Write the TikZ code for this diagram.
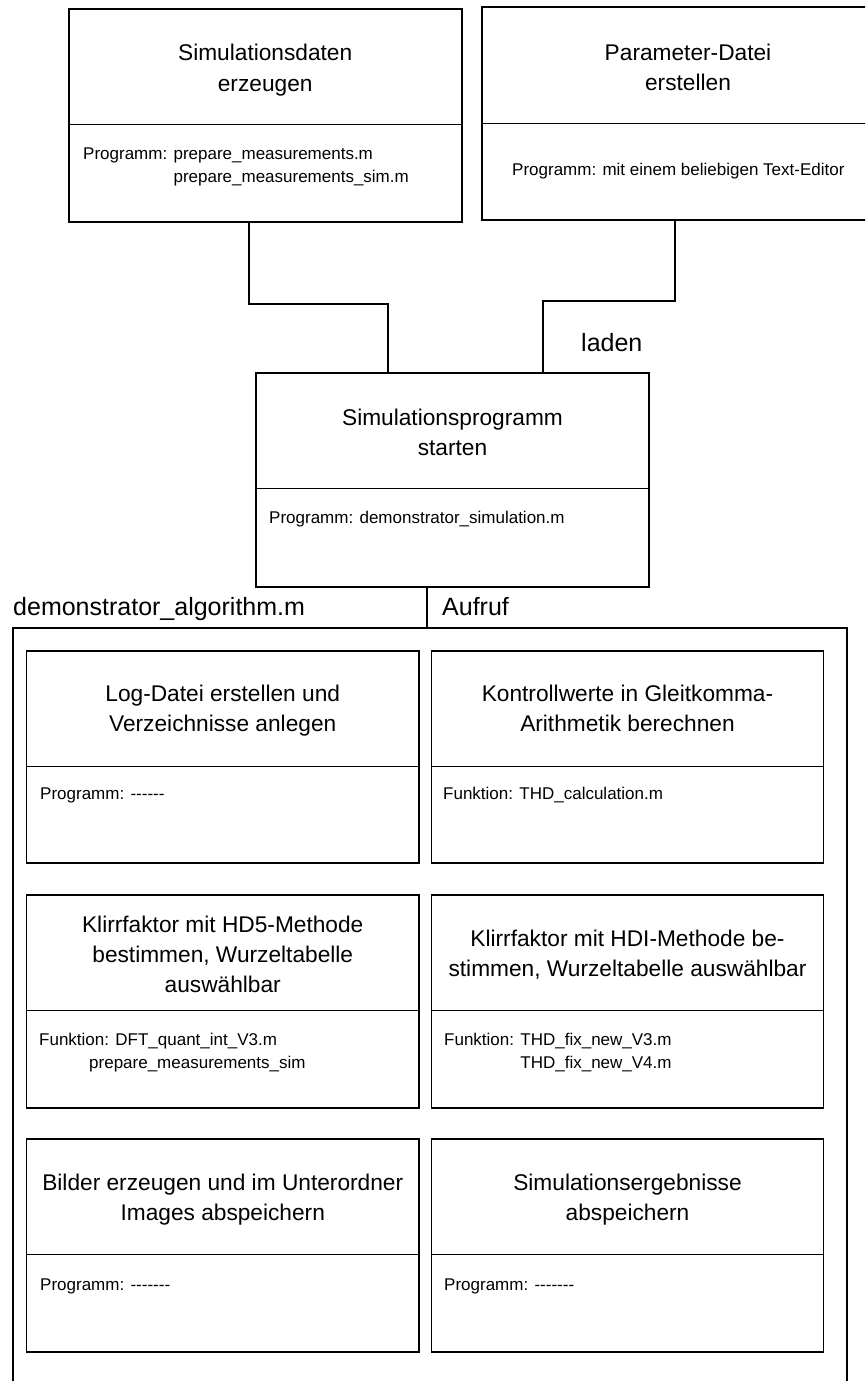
\documentclass[tikz,border=0pt]{standalone}
\usepackage{fontspec}
\setmainfont{Liberation Sans}
% multi-line text whose baseline is that of its first line
\newcommand\boxtitle[1]{\begin{tabular}[t]{@{}c@{}}#1\end{tabular}}
\newcommand\boxbody[1]{\begin{tabular}[t]{@{}l@{}}#1\end{tabular}}
\begin{document}
\begin{tikzpicture}[x=1pt,y=-1pt,
  stage/.style={draw=black, line width=1.6pt, inner sep=0pt, outer sep=0pt},
  divider/.style={draw=black, line width=1pt},
  conn/.style={draw=black, line width=1.1pt},
  title/.style={anchor=base, inner sep=0pt, font=\fontsize{22.7}{30}\selectfont},
  body/.style={anchor=base west, inner sep=0pt, font=\fontsize{17}{22.5}\selectfont},
  tag/.style={anchor=base west, inner sep=0pt, font=\fontsize{25}{30}\selectfont}]
\useasboundingbox (0,0) rectangle (865,1381);
\clip (0,0) rectangle (865,1381);

% ---------- top row ----------
\node[stage, minimum width=393, minimum height=213] (b1) at (265.2,115.5) {};
\draw[divider] (b1.west |- 0,124) -- (b1.east |- 0,124);
\node[title] (b1t) at (265.2,61) {\boxtitle{Simulationsdaten\\erzeugen}};
\node[body] (b1p) at (83,159.5) {\boxbody{Programm: prepare\_measurements.m\\\hphantom{Programm: }prepare\_measurements\_sim.m}};

\node[stage, minimum width=412, minimum height=213] (b2) at (688,113.5) {};
\draw[divider] (b2.west |- 0,123) -- (b2.east |- 0,123);
\node[title] (b2t) at (688,60.7) {\boxtitle{Parameter-Datei\\erstellen}};
\node[body] (b2p) at (512,175) {Programm: mit einem beliebigen Text-Editor};

% ---------- simulation program ----------
\node[stage, minimum width=393, minimum height=214] (b3) at (452.5,480) {};
\draw[divider] (b3.west |- 0,488) -- (b3.east |- 0,488);
\node[title] (b3t) at (452.5,425) {\boxtitle{Simulationsprogramm\\starten}};
\node[body] (b3p) at (269,523) {Programm: demonstrator\_simulation.m};

% connectors into the simulation program
\coordinate (c1) at (249,304);
\coordinate (c2) at (388,304);
\draw[conn] (b1.south -| c1) -- (c1) -- (c2) -- (c2 |- b3.north);
\coordinate (c3) at (675,301);
\coordinate (c4) at (543,301);
\draw[conn] (b2.south -| c3) -- (c3) -- (c4) -- (c4 |- b3.north);
\node[tag] (laden) at (581,351) {laden};

% ---------- algorithm frame ----------
\node[draw=black, line width=1.7pt, inner sep=0pt, outer sep=0pt,
      minimum width=834, minimum height=800] (frame) at (430,1028) {};
\coordinate (c5) at (427,0);
\draw[conn] (b3.south -| c5) -- (frame.north -| c5);
\node[tag] (alg) at (13,615) {demonstrator\_algorithm.m};
\node[tag] (aufruf) at (442,615) {Aufruf};

% row 1
\node[stage, minimum width=392.5, minimum height=212] (s1) at (222.75,757) {};
\draw[divider] (s1.west |- 0,766) -- (s1.east |- 0,766);
\node[title] (s1t) at (222.75,701.7) {\boxtitle{Log-Datei erstellen und\\Verzeichnisse anlegen}};
\node[body] (s1p) at (40,799) {Programm: -{}-{}-{}-{}-{}-};

\node[stage, minimum width=392, minimum height=212] (s2) at (627.5,757) {};
\draw[divider] (s2.west |- 0,766) -- (s2.east |- 0,766);
\node[title] (s2t) at (627.5,701.7) {\boxtitle{Kontrollwerte in Gleitkomma-\\Arithmetik berechnen}};
\node[body] (s2p) at (443,799) {Funktion: THD\_calculation.m};

% row 2
\node[stage, minimum width=392.5, minimum height=213] (s3) at (222.75,1001.5) {};
\draw[divider] (s3.west |- 0,1010) -- (s3.east |- 0,1010);
\node[title] (s3t) at (222.75,932.7) {\boxtitle{Klirrfaktor mit HD5-Methode\\bestimmen, Wurzeltabelle\\auswählbar}};
\node[body] (s3p) at (39,1045.5) {\boxbody{Funktion: DFT\_quant\_int\_V3.m\\\hspace*{50pt}prepare\_measurements\_sim}};

\node[stage, minimum width=392, minimum height=213] (s4) at (627.5,1001.5) {};
\draw[divider] (s4.west |- 0,1010) -- (s4.east |- 0,1010);
\node[title] (s4t) at (627.5,946.7) {\boxtitle{Klirrfaktor mit HDI-Methode be-\\stimmen, Wurzeltabelle auswählbar}};
\node[body] (s4p) at (444,1045.5) {\boxbody{Funktion: THD\_fix\_new\_V3.m\\\hphantom{Funktion: }THD\_fix\_new\_V4.m}};

% row 3
\node[stage, minimum width=392.5, minimum height=213] (s5) at (222.75,1245.5) {};
\draw[divider] (s5.west |- 0,1254) -- (s5.east |- 0,1254);
\node[title] (s5t) at (222.75,1190) {\boxtitle{Bilder erzeugen und im Unterordner\\Images abspeichern}};
\node[body] (s5p) at (40,1290) {Programm: -{}-{}-{}-{}-{}-{}-};

\node[stage, minimum width=392, minimum height=213] (s6) at (627.5,1245.5) {};
\draw[divider] (s6.west |- 0,1254) -- (s6.east |- 0,1254);
\node[title] (s6t) at (627.5,1190) {\boxtitle{Simulationsergebnisse\\abspeichern}};
\node[body] (s6p) at (444,1290) {Programm: -{}-{}-{}-{}-{}-{}-};
\end{tikzpicture}
\end{document}
